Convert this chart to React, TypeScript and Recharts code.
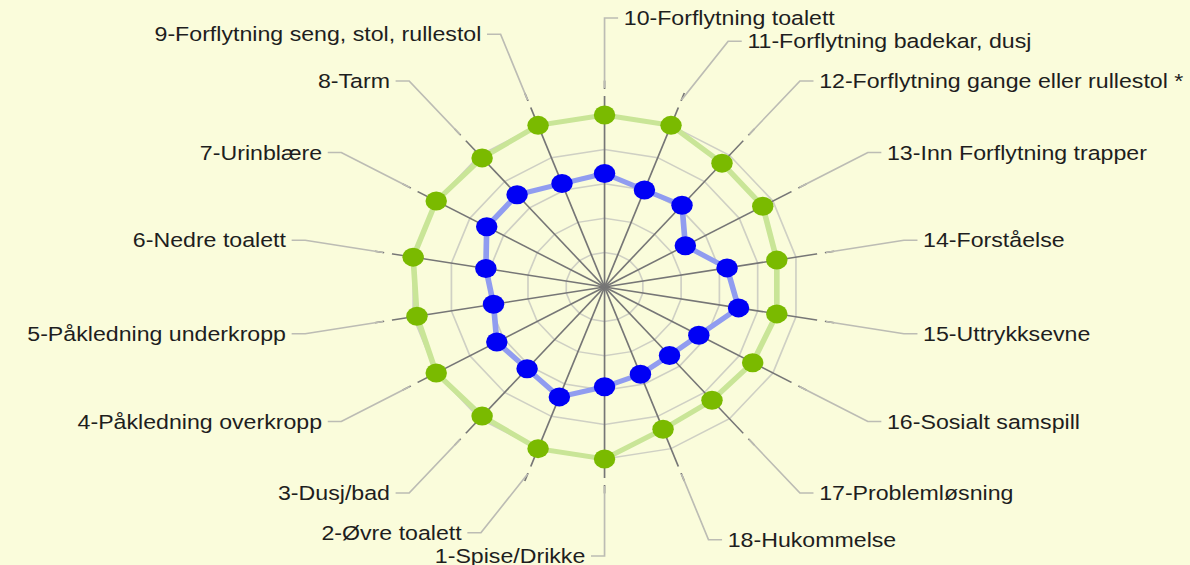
import {
  PolarAngleAxis,
  PolarGrid,
  PolarRadiusAxis,
  Radar,
  RadarChart,
} from "recharts";

// functions 1..18, as listed in the labels
const categories = [
  "1-Spise/Drikke",
  "2-Øvre toalett",
  "3-Dusj/bad",
  "4-Påkledning overkropp",
  "5-Påkledning underkropp",
  "6-Nedre toalett",
  "7-Urinblære",
  "8-Tarm",
  "9-Forflytning seng, stol, rullestol",
  "10-Forflytning toalett",
  "11-Forflytning badekar, dusj",
  "12-Forflytning gange eller rullestol *",
  "13-Inn Forflytning trapper",
  "14-Forståelse",
  "15-Uttrykksevne",
  "16-Sosialt samspill",
  "17-Problemløsning",
  "18-Hukommelse",
];

const outerScores = [5, 5, 4.9, 5, 4.9, 5, 5, 4.9, 5, 5, 5, 4.7, 4.7, 4.5, 4.5, 4.4, 4.3, 4.4];
const innerScores = [2.9, 3.4, 3.1, 3.2, 2.9, 3.1, 3.5, 3.5, 3.2, 3.3, 3.0, 3.1, 2.4, 3.2, 3.5, 2.8, 2.6, 2.7];

const ringTicks = [1, 2, 3, 4, 5];

// the chart starts at item 10 on top and runs clockwise
const firstIndex = 9;

const BG = "#fafcdb";
const STRETCH = 1.13;
const WIDTH = 1053;
const HEIGHT = 565;
const CX = 535;
const CY = 287;
const MAX = 6;
const OUTER = 206.4; // value 5 lands at ~172px
const SPOKE_END = 190;
const LEADER_START = 199;
const LABEL_R = 269;

// small angle nudges so neighbouring labels near top/bottom don't collide
const labelNudge: Record<number, number> = { 1: -4, 10: -4 };

const data = categories.map((_, i) => {
  const k = (i + firstIndex) % categories.length;
  return { name: categories[k], outer: outerScores[k], inner: innerScores[k] };
});

const ringRadii = ringTicks.map((v) => (v / MAX) * OUTER);

function polar(r: number, deg: number) {
  const rad = (-deg * Math.PI) / 180;
  return { x: CX + r * Math.cos(rad), y: CY + r * Math.sin(rad) };
}

function LabelTick(props: any) {
  const { payload, index } = props;
  const angle = payload.coordinate;
  const labelAngle = angle + (labelNudge[index] ?? 0);
  const m1 = polar(SPOKE_END + 1, angle);
  const m2 = polar(LEADER_START - 1, angle);
  const a = polar(LEADER_START, angle);
  const b = polar(LABEL_R, labelAngle);
  const cos = Math.cos((labelAngle * Math.PI) / 180);
  const sin = Math.sin((labelAngle * Math.PI) / 180);
  const right = cos > 0.01 || (Math.abs(cos) <= 0.01 && sin > 0);
  const dir = right ? 1 : -1;
  return (
    <g>
      <line stroke={BG} strokeWidth={4} x1={m1.x} x2={m2.x} y1={m1.y} y2={m2.y} />
      <polyline
        fill="none"
        points={`${a.x},${a.y} ${b.x},${b.y} ${b.x + dir * 12},${b.y}`}
        stroke="#bcbcb4"
        strokeWidth={1.5}
      />
      <text
        dominantBaseline="central"
        fill="#1e1e1e"
        fontFamily="'Liberation Sans', Arial, sans-serif"
        fontSize={20.5}
        textAnchor={right ? "start" : "end"}
        x={b.x + dir * 17}
        y={b.y}
      >
        {payload.value}
      </text>
    </g>
  );
}

export default function App() {
  return (
    <div
      style={{
        position: "absolute",
        left: 0,
        top: 0,
        width: 1190,
        height: 565,
        background: BG,
        overflow: "hidden",
      }}
    >
      <div style={{ transform: `scaleX(${STRETCH})`, transformOrigin: "0 0" }}>
        <RadarChart
          cx={CX}
          cy={CY}
          data={data}
          endAngle={-270}
          height={HEIGHT}
          outerRadius={OUTER}
          startAngle={90}
          width={WIDTH}
        >
          <PolarGrid
            gridType="polygon"
            polarRadius={ringRadii}
            radialLines={false}
            stroke="#cfd0c4"
            strokeWidth={1.5}
          />
          <PolarGrid
            gridType="polygon"
            polarRadius={[]}
            stroke="#767676"
            strokeWidth={1.5}
          />
          <PolarAngleAxis
            axisLine={false}
            dataKey="name"
            tick={(p: any) => <LabelTick {...p} />}
            tickLine={false}
          />
          <PolarRadiusAxis axisLine={false} domain={[0, MAX]} tick={false} />
          <Radar
            dataKey="outer"
            dot={{ r: 9.5, fill: "#7aba00", stroke: "none", fillOpacity: 1 }}
            fill="none"
            isAnimationActive={false}
            stroke="#c9e597"
            strokeWidth={5}
          />
          <Radar
            dataKey="inner"
            dot={{ r: 9.5, fill: "#0000f5", stroke: "none", fillOpacity: 1 }}
            fill="none"
            isAnimationActive={false}
            stroke="#909cf0"
            strokeWidth={5}
          />
        </RadarChart>
      </div>
    </div>
  );
}
